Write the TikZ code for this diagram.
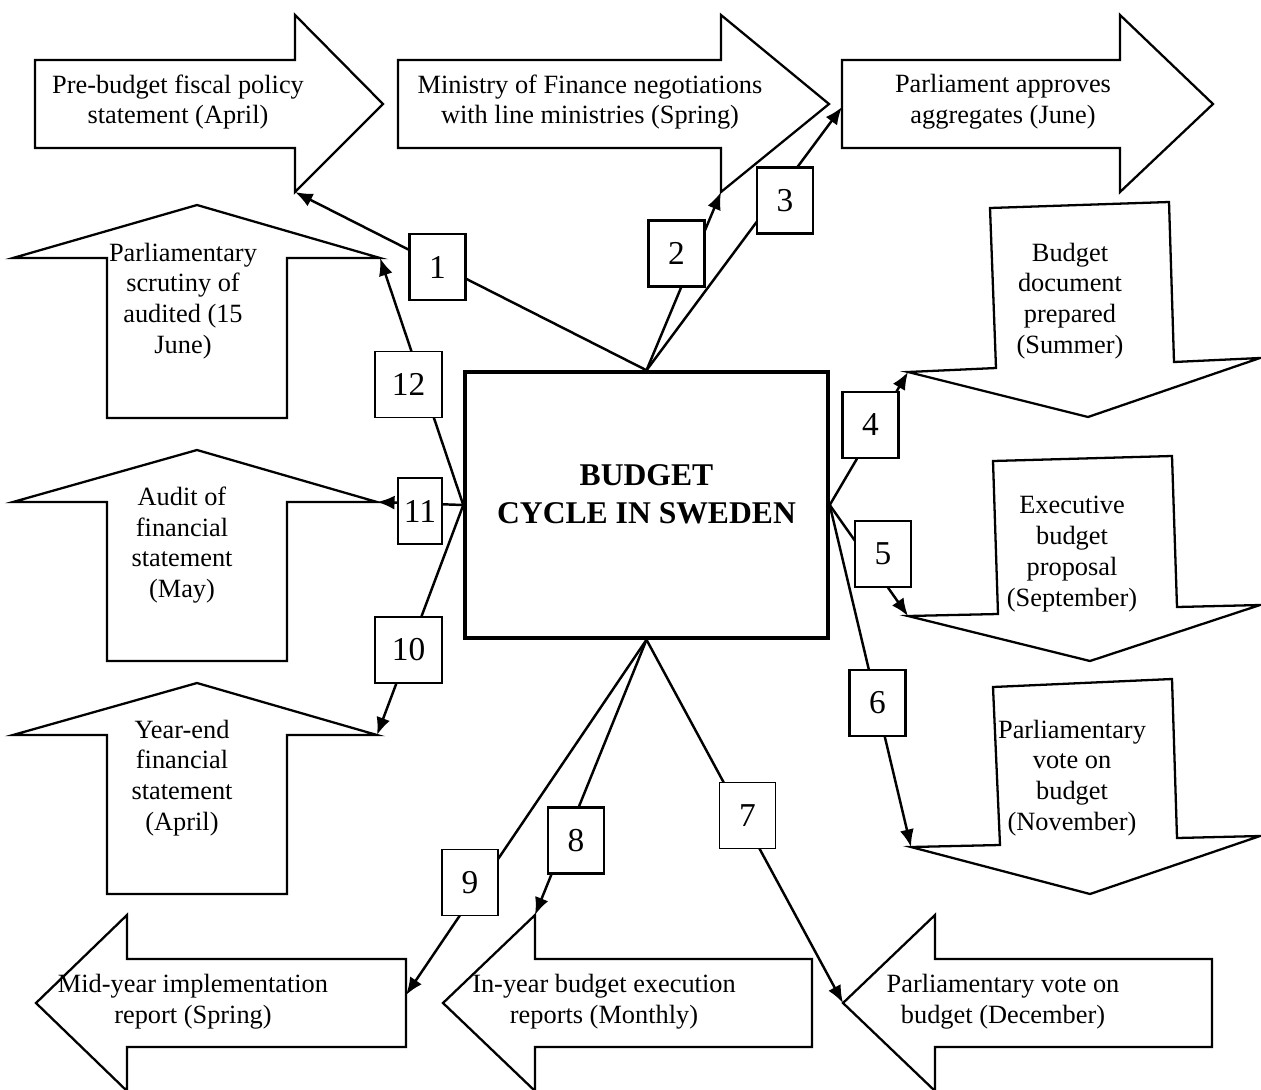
\documentclass[tikz,border=0pt]{standalone}
\usepackage{fontspec}
\setmainfont{Liberation Serif}
\usetikzlibrary{arrows.meta}

\begin{document}
\begin{tikzpicture}[x = 0.02cm, y = -0.02cm,
        stage/.style = {draw, line width = 1.3pt, fill = white},
        stagetext/.style = {align = center, font = \fontsize{15}{17.5}\selectfont},
        numbox/.style = {draw, fill = white, line width = 1.5pt, minimum width = 1.12cm, minimum height = 1.32cm, inner sep = 0pt, font = \fontsize{19}{19}\selectfont},
        thinbox/.style = {numbox, line width = 0.9pt},
        link/.style = {line width = 1.4pt, -{Latex[length = 10pt, width = 8pt]}}]
        \useasboundingbox (0,0) rectangle (1261,1089);

        % top row
        \draw [stage] (35,60) -- (295,60) -- (295,15) -- (383,104) -- (295,192) coordinate (t1) -- (295,148) -- (35,148) -- cycle;
        \draw [stage] (398,60) -- (721,60) -- (721,15) -- (829,104) -- (721,192) coordinate (t2) -- (721,148) -- (398,148) -- cycle;
        \draw [stage] (842,60) -- (1120,60) -- (1120,15) -- (1213,104) -- (1120,192) -- (1120,148) -- (842,148) -- cycle;
        \coordinate (t3) at (842,107);

        % right column
        \draw [stage] (990,208) -- (1169,202) -- (1174,362) -- (1260,358) -- (1088,417) -- (908,372) coordinate (t4) -- (996,368) -- cycle;
        \draw [stage] (993,461) -- (1172,456) -- (1177,607) -- (1260,605) -- (1090,661) -- (908,616) coordinate (t5) -- (998,614) -- cycle;
        \draw [stage] (993,687) -- (1172,679) -- (1177,838) -- (1260,836) -- (1090,894) -- (911,847) coordinate (t6) -- (1000,845) -- cycle;

        % bottom row
        \draw [stage] (1212,959) -- (935,959) -- (935,915) -- (843,1003) coordinate (t7) -- (935,1091) -- (935,1047) -- (1212,1047) -- cycle;
        \draw [stage] (812,959) -- (535,959) -- (535,915) coordinate (t8) -- (443,1003) -- (535,1091) -- (535,1047) -- (812,1047) -- cycle;
        \draw [stage] (406,959) -- (127,959) -- (127,915) -- (36,1003) -- (127,1091) -- (127,1047) -- (406,1047) -- cycle;
        \coordinate (t9) at (406,995);

        % left column
        \draw [stage] (107,894) -- (107,735) -- (13,735) -- (197,683) -- (377,735) coordinate (t10) -- (287,735) -- (287,894) -- cycle;
        \draw [stage] (107,661) -- (107,502) -- (13,502) -- (197,450) -- (377,502) coordinate (t11) -- (287,502) -- (287,661) -- cycle;
        \draw [stage] (107,418) -- (107,258) -- (13,258) -- (197,205) -- (380,258) coordinate (t12) -- (287,258) -- (287,418) -- cycle;

        \node [stagetext] (pre) at (178,102) {Pre-budget fiscal policy\\statement (April)};
        \node [stagetext] (mof) at (590,102) {Ministry of Finance negotiations\\with line ministries (Spring)};
        \node [stagetext] (appr) at (1003,102) {Parliament approves\\aggregates (June)};
        \node [stagetext] (prep) at (1070,301) {Budget\\document\\prepared\\(Summer)};
        \node [stagetext] (exec) at (1072,554) {Executive\\budget\\proposal\\(September)};
        \node [stagetext] (nov) at (1072,778) {Parliamentary\\vote on\\budget\\(November)};
        \node [stagetext] (dec) at (1003,1002) {Parliamentary vote on\\budget (December)};
        \node [stagetext] (inyear) at (604,1002) {In-year budget execution\\reports (Monthly)};
        \node [stagetext] (midyear) at (193,1002) {Mid-year implementation\\report (Spring)};
        \node [stagetext] (yearend) at (182,778) {Year-end\\financial\\statement\\(April)};
        \node [stagetext] (audit) at (182,545) {Audit of\\financial\\statement\\(May)};
        \node [stagetext] (scrutiny) at (183,301) {Parliamentary\\scrutiny of\\audited (15\\June)};

        % centre
        \node [draw, line width = 2pt, minimum width = 7.26cm, minimum height = 5.32cm] (cycle) at (646.5,505) {};
        \node [align = center, font = \fontsize{18}{21.5}\selectfont\bfseries] (title) at (646.5,494) {BUDGET\\CYCLE IN SWEDEN};

        \draw [link] (cycle.north) -- (t1);
        \draw [link] (cycle.north) -- (t2);
        \draw [link] (cycle.north) -- (t3);
        \draw [link] (cycle.east) -- (t4);
        \draw [link] (cycle.east) -- (t5);
        \draw [link] (cycle.east) -- (t6);
        \draw [link] (cycle.south) -- (t7);
        \draw [link] (cycle.south) -- (t8);
        \draw [link] (cycle.south) -- (t9);
        \draw [link] (cycle.west) -- (t10);
        \draw [link] (cycle.west) -- (t11);
        \draw [link] (cycle.west) -- (t12);

        \node [numbox] (n1) at (437.5,267) {1};
        \node [numbox] (n2) at (676.5,253.5) {2};
        \node [numbox] (n3) at (785,200.5) {3};
        \node [numbox] (n4) at (870.5,425) {4};
        \node [numbox] (n5) at (883,554) {5};
        \node [numbox] (n6) at (877.5,703) {6};
        \node [thinbox] (n7) at (747.5,815.5) {7};
        \node [numbox] (n8) at (576,840.5) {8};
        \node [thinbox] (n9) at (470,882.5) {9};
        \node [thinbox, minimum width = 1.34cm] (n10) at (408.5,650) {10};
        \node [thinbox, minimum width = 0.88cm] (n11) at (420,511) {11};
        \node [thinbox, minimum width = 1.34cm] (n12) at (408.5,384.5) {12};
\end{tikzpicture}
\end{document}
